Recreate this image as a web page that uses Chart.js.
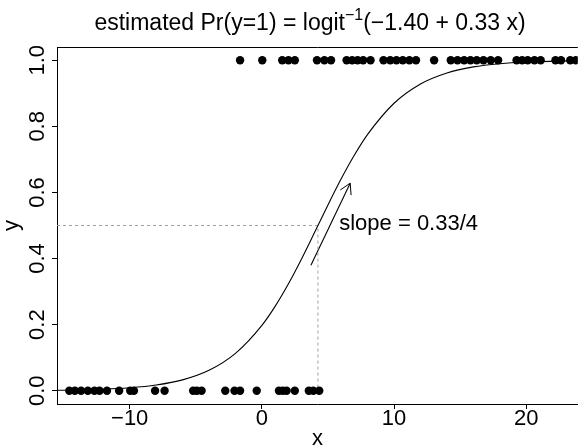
<!DOCTYPE html>
<html>
<head>
<meta charset="utf-8">
<script src="https://cdn.jsdelivr.net/npm/chart.js@4/dist/chart.umd.min.js"></script>
<style>
  body { margin: 0; background: #fff; }
  canvas { display: block; }
</style>
</head>
<body>
<canvas id="chart" width="582" height="448"></canvas>
<script>
const FONT = '"Liberation Sans", Arial, Helvetica, sans-serif';

const zeroX = [-14.57, -14.15, -13.68, -13.17, -12.67, -12.28, -11.72, -10.8, -9.96, -9.68,
  -8.08, -7.36, -5.2, -4.92, -4.56, -2.77, -2.07, -1.65, -0.39, 1.29, 1.59, 1.87, 2.49,
  3.55, 3.89, 4.34];
const oneX = [-1.65, 0.03, 1.54, 2.01, 2.49, 4.17, 4.73, 5.23, 6.41, 6.83, 7.24, 7.66, 8.22,
  9.2, 9.71, 10.18, 10.66, 11.16, 11.66, 13.03, 14.29, 14.8, 15.3, 15.78, 16.25, 16.76,
  17.31, 17.87, 19.27, 19.69, 20.11, 20.62, 21.09, 22.21, 22.63, 23.33, 23.75];

// fitted curve, read at these x positions
const curveX = [-15.5, -12, -10, -8, -6, -4, -2, 0, 1, 2, 3, 4, 5, 6, 7, 8, 10, 12, 14, 16, 18, 20, 23.9];
const curveY = [0.0015, 0.0047, 0.009, 0.0173, 0.0329, 0.0618, 0.1131, 0.1978, 0.2554, 0.323,
  0.3989, 0.48, 0.5622, 0.6411, 0.713, 0.7756, 0.8699, 0.9282, 0.9616, 0.9798, 0.9894, 0.9945, 0.9985];

// dashed guide at the 0.5 crossing
const midX = 4.24;
const midY = 0.5;

// slope arrow and label
const arrowX = [3.71, 6.68];
const arrowY = [0.38, 0.628];
const slopeLabel = 'slope = 0.33/4';
const slopeAt = [5.85, 0.505];

const xTicks = [-10, 0, 10, 20];
const yTicks = [0, 0.2, 0.4, 0.6, 0.8, 1.0];

const rPlot = {
  id: 'rPlot',
  afterDraw(chart) {
    const { ctx, chartArea: a, scales: { x, y } } = chart;
    ctx.save();
    // top line of the box
    ctx.strokeStyle = '#000';
    ctx.lineWidth = 1;
    ctx.beginPath();
    ctx.moveTo(a.left, a.top + 0.5);
    ctx.lineTo(a.right, a.top + 0.5);
    ctx.stroke();

    // y tick labels, rotated like R
    ctx.fillStyle = '#000';
    ctx.font = '22px ' + FONT;
    ctx.textAlign = 'center';
    ctx.textBaseline = 'middle';
    yTicks.forEach(v => {
      ctx.save();
      ctx.translate(a.left - 19, y.getPixelForValue(v));
      ctx.rotate(-Math.PI / 2);
      ctx.fillText(v.toFixed(1), 0, 0);
      ctx.restore();
    });
    ctx.save();
    ctx.translate(12, (a.top + a.bottom) / 2);
    ctx.rotate(-Math.PI / 2);
    ctx.fillText('y', 0, 0);
    ctx.restore();

    // arrow head
    const x0 = x.getPixelForValue(arrowX[0]), y0 = y.getPixelForValue(arrowY[0]);
    const x1 = x.getPixelForValue(arrowX[1]), y1 = y.getPixelForValue(arrowY[1]);
    const ang = Math.atan2(y1 - y0, x1 - x0);
    const len = 12;
    ctx.beginPath();
    ctx.moveTo(x1 - len * Math.cos(ang - Math.PI / 6), y1 - len * Math.sin(ang - Math.PI / 6));
    ctx.lineTo(x1, y1);
    ctx.lineTo(x1 - len * Math.cos(ang + Math.PI / 6), y1 - len * Math.sin(ang + Math.PI / 6));
    ctx.stroke();

    // slope text
    ctx.textAlign = 'left';
    ctx.fillText(slopeLabel, x.getPixelForValue(slopeAt[0]), y.getPixelForValue(slopeAt[1]));

    // title with superscript
    const cx = 310, ty = 30;
    const p1 = 'estimated Pr(y=1) = logit', sup = '\u22121', p2 = '(\u22121.40 + 0.33 x)';
    ctx.font = '23px ' + FONT;
    const w1 = ctx.measureText(p1).width, w3 = ctx.measureText(p2).width;
    ctx.font = '16px ' + FONT;
    const w2 = ctx.measureText(sup).width;
    const sx = cx - (w1 + w2 + w3) / 2;
    ctx.textBaseline = 'alphabetic';
    ctx.font = '23px ' + FONT;
    ctx.fillText(p1, sx, ty);
    ctx.font = '16px ' + FONT;
    ctx.fillText(sup, sx + w1, ty - 10);
    ctx.font = '23px ' + FONT;
    ctx.fillText(p2, sx + w1 + w2, ty);
    ctx.restore();
  }
};

new Chart(document.getElementById('chart'), {
  type: 'scatter',
  data: {
    datasets: [
      {
        data: zeroX.map(v => ({ x: v, y: 0 })),
        backgroundColor: '#000', borderColor: '#000', pointRadius: 4.2, pointBorderWidth: 0
      },
      {
        data: oneX.map(v => ({ x: v, y: 1 })),
        backgroundColor: '#000', borderColor: '#000', pointRadius: 4.2, pointBorderWidth: 0
      },
      {
        type: 'line',
        data: curveX.map((v, i) => ({ x: v, y: curveY[i] })),
        borderColor: '#000', borderWidth: 1.1, pointRadius: 0, cubicInterpolationMode: 'monotone'
      },
      {
        type: 'line',
        data: [{ x: -15.5, y: midY }, { x: midX, y: midY }, { x: midX, y: 0 }],
        borderColor: '#a0a0a0', borderWidth: 1, borderDash: [3, 3], pointRadius: 0
      },
      {
        type: 'line',
        data: arrowX.map((v, i) => ({ x: v, y: arrowY[i] })),
        borderColor: '#000', borderWidth: 1.1, pointRadius: 0
      }
    ]
  },
  options: {
    responsive: false,
    animation: false,
    layout: { padding: { top: 47, right: 0, left: 0, bottom: 0 } },
    plugins: { legend: { display: false }, tooltip: { enabled: false }, title: { display: false } },
    scales: {
      x: {
        type: 'linear', min: -15.5, max: 23.9,
        afterFit: s => { s.height = 44; },
        afterBuildTicks: s => { s.ticks = xTicks.map(v => ({ value: v })); },
        grid: { drawOnChartArea: false, drawTicks: true, tickLength: 5, color: '#000' },
        border: { display: true, color: '#000', width: 1 },
        ticks: {
          color: '#000', font: { size: 22, family: FONT }, padding: -3, maxRotation: 0,
          callback: v => (v < 0 ? '\u2212' + Math.abs(v) : String(v))
        },
        title: { display: true, text: 'x', color: '#000', font: { size: 22, family: FONT }, padding: { top: 0, bottom: -4 } }
      },
      y: {
        type: 'linear', min: -0.04, max: 1.04,
        afterFit: s => { s.width = 57; },
        afterBuildTicks: s => { s.ticks = yTicks.map(v => ({ value: v })); },
        grid: { drawOnChartArea: false, drawTicks: true, tickLength: 5, color: '#000' },
        border: { display: true, color: '#000', width: 1 },
        ticks: { display: false }
      }
    }
  },
  plugins: [rPlot]
});
</script>
</body>
</html>
